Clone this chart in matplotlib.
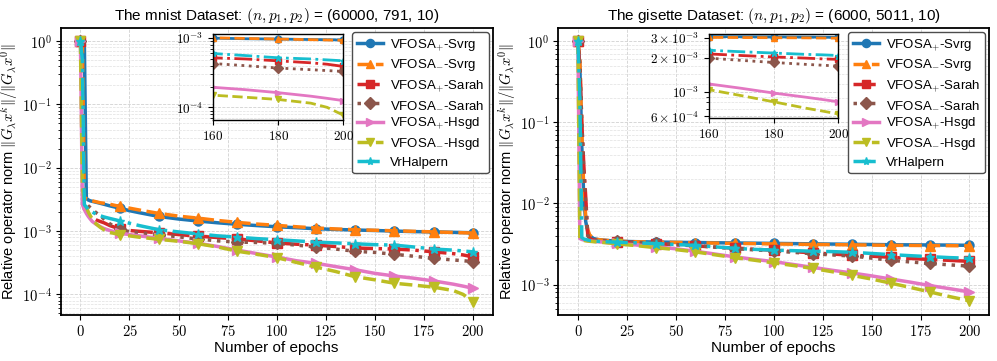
import math
import matplotlib
matplotlib.use("Agg")
import matplotlib.pyplot as plt
from matplotlib.ticker import FuncFormatter, NullFormatter, LogLocator

plt.rcParams["font.family"] = ["Liberation Sans", "DejaVu Sans"]
plt.rcParams["mathtext.fontset"] = "cm"

epochs = [0, 1, 2, 3, 4, 5, 6, 8, 10, 12, 15, 20, 25, 30, 40, 50, 60, 70, 80, 90,
          100, 110, 120, 130, 140, 150, 160, 170, 180, 190, 195, 200]

labels = [r"VFOSA$_{+}$-Svrg", r"VFOSA$_{-}$-Svrg", r"VFOSA$_{+}$-Sarah",
          r"VFOSA$_{-}$-Sarah", r"VFOSA$_{+}$-Hsgd", r"VFOSA$_{-}$-Hsgd", "VrHalpern"]

# ---- mnist ----
mnist_svrg_p = [1.0, 0.98, 0.9, 3.3e-3, 3.1e-3, 3.0e-3, 2.95e-3, 2.85e-3, 2.75e-3, 2.65e-3, 2.5e-3,
                2.3e-3, 2.1e-3, 1.95e-3, 1.7e-3, 1.55e-3, 1.44e-3, 1.35e-3, 1.28e-3, 1.22e-3,
                1.17e-3, 1.13e-3, 1.09e-3, 1.06e-3, 1.04e-3, 1.02e-3, 1.0e-3, 0.98e-3, 0.97e-3,
                0.955e-3, 0.948e-3, 0.94e-3]
mnist_svrg_m = [1.0, 0.9, 3.4e-3, 3.25e-3, 3.15e-3, 3.05e-3, 3.0e-3, 2.9e-3, 2.8e-3, 2.75e-3, 2.65e-3,
                2.45e-3, 2.3e-3, 2.15e-3, 1.9e-3, 1.72e-3, 1.6e-3, 1.47e-3, 1.37e-3, 1.29e-3,
                1.23e-3, 1.17e-3, 1.12e-3, 1.08e-3, 1.05e-3, 1.03e-3, 1.01e-3, 0.99e-3, 0.97e-3,
                0.95e-3, 0.94e-3, 0.93e-3]
mnist_sarah_p = [1.0, 0.3, 2.2e-3, 2.0e-3, 1.8e-3, 1.7e-3, 1.62e-3, 1.5e-3, 1.42e-3, 1.35e-3, 1.22e-3,
                 1.08e-3, 1.02e-3, 0.99e-3, 0.94e-3, 0.88e-3, 0.83e-3, 0.79e-3, 0.75e-3, 0.7e-3,
                 0.65e-3, 0.62e-3, 0.6e-3, 0.57e-3, 0.54e-3, 0.53e-3, 0.52e-3, 0.5e-3, 0.47e-3,
                 0.44e-3, 0.42e-3, 0.39e-3]
mnist_sarah_m = [1.0, 0.5, 3.0e-3, 2.7e-3, 2.5e-3, 2.35e-3, 2.2e-3, 1.95e-3, 1.75e-3, 1.55e-3, 1.3e-3,
                 1.06e-3, 0.98e-3, 0.94e-3, 0.88e-3, 0.81e-3, 0.75e-3, 0.7e-3, 0.67e-3, 0.66e-3,
                 0.64e-3, 0.6e-3, 0.56e-3, 0.52e-3, 0.48e-3, 0.46e-3, 0.43e-3, 0.4e-3, 0.37e-3,
                 0.35e-3, 0.34e-3, 0.33e-3]
mnist_hsgd_p = [1.0, 2.6e-3, 2.2e-3, 1.9e-3, 1.7e-3, 1.55e-3, 1.42e-3, 1.28e-3, 1.18e-3, 1.1e-3, 1.02e-3,
                0.93e-3, 0.88e-3, 0.84e-3, 0.77e-3, 0.7e-3, 0.64e-3, 0.57e-3, 0.5e-3, 0.44e-3,
                0.39e-3, 0.34e-3, 0.31e-3, 0.275e-3, 0.245e-3, 0.215e-3, 0.195e-3, 0.18e-3, 0.163e-3,
                0.145e-3, 0.135e-3, 0.125e-3]
mnist_hsgd_m = [1.0, 5e-3, 3.0e-3, 2.4e-3, 2.0e-3, 1.75e-3, 1.55e-3, 1.3e-3, 1.15e-3, 1.05e-3, 0.95e-3,
                0.88e-3, 0.84e-3, 0.8e-3, 0.74e-3, 0.69e-3, 0.63e-3, 0.56e-3, 0.48e-3, 0.43e-3,
                0.38e-3, 0.32e-3, 0.27e-3, 0.23e-3, 0.19e-3, 0.17e-3, 0.15e-3, 0.14e-3, 0.13e-3,
                0.115e-3, 0.1e-3, 0.077e-3]
mnist_halpern = [1.0, 0.5, 2.6e-3, 2.4e-3, 2.2e-3, 2.1e-3, 2.0e-3, 1.85e-3, 1.75e-3, 1.67e-3, 1.58e-3,
                 1.45e-3, 1.33e-3, 1.22e-3, 1.05e-3, 0.97e-3, 0.9e-3, 0.84e-3, 0.8e-3, 0.76e-3,
                 0.73e-3, 0.7e-3, 0.67e-3, 0.65e-3, 0.63e-3, 0.61e-3, 0.6e-3, 0.56e-3, 0.52e-3,
                 0.5e-3, 0.485e-3, 0.47e-3]

# ---- gisette ----
gis_svrg_p = [1.0, 0.5, 0.05, 0.012, 6e-3, 4.5e-3, 4.0e-3, 3.7e-3, 3.6e-3, 3.55e-3, 3.5e-3,
              3.42e-3, 3.4e-3, 3.38e-3, 3.35e-3, 3.32e-3, 3.3e-3, 3.28e-3, 3.26e-3, 3.24e-3,
              3.22e-3, 3.2e-3, 3.18e-3, 3.16e-3, 3.14e-3, 3.12e-3, 3.1e-3, 3.09e-3, 3.08e-3,
              3.07e-3, 3.06e-3, 3.05e-3]
gis_svrg_m = [1.0, 0.6, 0.08, 0.015, 7e-3, 4.8e-3, 4.1e-3, 3.7e-3, 3.6e-3, 3.55e-3, 3.5e-3,
              3.42e-3, 3.4e-3, 3.37e-3, 3.34e-3, 3.31e-3, 3.28e-3, 3.25e-3, 3.22e-3, 3.2e-3,
              3.17e-3, 3.15e-3, 3.13e-3, 3.11e-3, 3.09e-3, 3.07e-3, 3.05e-3, 3.04e-3, 3.03e-3,
              3.02e-3, 3.01e-3, 3.0e-3]
gis_sarah_p = [1.0, 0.5, 0.1, 0.03, 0.012, 4.2e-3, 3.7e-3, 3.55e-3, 3.5e-3, 3.47e-3, 3.43e-3,
               3.38e-3, 3.34e-3, 3.3e-3, 3.2e-3, 3.1e-3, 3.0e-3, 2.9e-3, 2.82e-3, 2.73e-3,
               2.65e-3, 2.55e-3, 2.46e-3, 2.38e-3, 2.3e-3, 2.24e-3, 2.17e-3, 2.1e-3, 2.04e-3,
               1.99e-3, 1.96e-3, 1.94e-3]
gis_sarah_m = [1.0, 0.5, 0.1, 0.025, 0.01, 4.0e-3, 3.7e-3, 3.55e-3, 3.5e-3, 3.47e-3, 3.43e-3,
               3.4e-3, 3.36e-3, 3.3e-3, 3.22e-3, 3.12e-3, 3.03e-3, 2.9e-3, 2.78e-3, 2.68e-3,
               2.6e-3, 2.5e-3, 2.4e-3, 2.32e-3, 2.25e-3, 2.12e-3, 1.99e-3, 1.9e-3, 1.82e-3,
               1.75e-3, 1.72e-3, 1.69e-3]
gis_hsgd_p = [1.0, 3.7e-3, 3.6e-3, 3.55e-3, 3.5e-3, 3.48e-3, 3.46e-3, 3.42e-3, 3.38e-3, 3.35e-3, 3.3e-3,
              3.22e-3, 3.15e-3, 3.08e-3, 2.93e-3, 2.76e-3, 2.58e-3, 2.38e-3, 2.2e-3, 2.05e-3,
              1.92e-3, 1.77e-3, 1.63e-3, 1.5e-3, 1.39e-3, 1.28e-3, 1.17e-3, 1.07e-3, 0.97e-3,
              0.89e-3, 0.85e-3, 0.81e-3]
gis_hsgd_m = [1.0, 3.6e-3, 3.55e-3, 3.5e-3, 3.47e-3, 3.44e-3, 3.42e-3, 3.38e-3, 3.35e-3, 3.32e-3, 3.27e-3,
              3.18e-3, 3.1e-3, 3.02e-3, 2.85e-3, 2.7e-3, 2.53e-3, 2.33e-3, 2.15e-3, 2.0e-3,
              1.85e-3, 1.72e-3, 1.58e-3, 1.44e-3, 1.3e-3, 1.17e-3, 1.04e-3, 0.92e-3, 0.81e-3,
              0.71e-3, 0.67e-3, 0.63e-3]
gis_halpern = [1.0, 0.2, 3.8e-3, 3.65e-3, 3.6e-3, 3.55e-3, 3.5e-3, 3.45e-3, 3.42e-3, 3.4e-3, 3.37e-3,
               3.33e-3, 3.3e-3, 3.27e-3, 3.2e-3, 3.12e-3, 3.04e-3, 2.92e-3, 2.8e-3, 2.72e-3,
               2.66e-3, 2.62e-3, 2.58e-3, 2.55e-3, 2.5e-3, 2.42e-3, 2.34e-3, 2.27e-3, 2.21e-3,
               2.15e-3, 2.13e-3, 2.1e-3]

mnist = [mnist_svrg_p, mnist_svrg_m, mnist_sarah_p, mnist_sarah_m, mnist_hsgd_p, mnist_hsgd_m, mnist_halpern]
gisette = [gis_svrg_p, gis_svrg_m, gis_sarah_p, gis_sarah_m, gis_hsgd_p, gis_hsgd_m, gis_halpern]

titles = [r"The mnist Dataset: $(n, p_1, p_2)$ = (60000, 791, 10)",
          r"The gisette Dataset: $(n, p_1, p_2)$ = (6000, 5011, 10)"]
xticks = [0, 25, 50, 75, 100, 125, 150, 175, 200]
inset_xticks = [160, 180, 200]
inset_ylims = [(6.6e-5, 1.15e-3), (5.8e-4, 3.25e-3)]
main_ylims = [(4.7e-5, 1.6), (4.2e-4, 1.45)]
gis_inset_ticks = [6e-4, 1e-3, 2e-3, 3e-3]
gis_inset_ticklabels = [r"$6\times10^{-4}$", r"$10^{-3}$", r"$2\times10^{-3}$", r"$3\times10^{-3}$"]

colors = ["tab:blue", "tab:orange", "tab:red", "tab:brown", "tab:pink", "tab:olive", "tab:cyan"]
styles = ["-", "--", "-.", ":", "-", "--", "-."]
markers = ["o", "^", "s", "D", ">", "v", "*"]

mark_idx = [i for i, e in enumerate(epochs) if e % 20 == 0]

math_int = FuncFormatter(lambda v, p: r"$%g$" % v)
math_pow = FuncFormatter(lambda v, p: r"$10^{%d}$" % round(math.log10(v)))

fig = plt.figure(figsize=(9.97, 3.61), dpi=100)
main_rects = [[0.061, 0.127, 0.433, 0.795], [0.560, 0.127, 0.432, 0.795]]
inset_rects = [[0.2135, 0.668, 0.131, 0.238], [0.711, 0.673, 0.130, 0.232]]


def draw(ax, data, lw, ms):
    for y, c, ls, m, lab in zip(data, colors, styles, markers, labels):
        ax.plot(epochs, y, color=c, ls=ls, marker=m, markevery=mark_idx,
                lw=lw, ms=ms, label=lab)


def style_grid(ax):
    ax.grid(True, which="major", ls="--", lw=0.6, color="0.82")
    ax.grid(True, which="minor", ls="--", lw=0.5, color="0.88")
    for s in ax.spines.values():
        s.set_linewidth(1.3)


for k, data in enumerate([mnist, gisette]):
    ax = fig.add_axes(main_rects[k])
    draw(ax, data, 2.5, 6.5)
    ax.set_yscale("log")
    ax.set_ylim(*main_ylims[k])
    ax.set_xticks(xticks)
    ax.xaxis.set_major_formatter(math_int)
    ax.yaxis.set_major_locator(LogLocator(base=10, numticks=10))
    ax.yaxis.set_major_formatter(math_pow)
    ax.yaxis.set_minor_formatter(NullFormatter())
    ax.tick_params(labelsize=10.5, pad=3)
    style_grid(ax)
    ax.set_title(titles[k], fontsize=11)
    ax.set_xlabel("Number of epochs", fontsize=11, labelpad=1)
    ax.set_ylabel(r"Relative operator norm $\|G_{\lambda}x^k\|/\|G_{\lambda}x^0\|$",
                  fontsize=10.5, labelpad=1)
    ax.legend(loc="upper right", fontsize=9.5, framealpha=1.0, edgecolor="0.3",
              handlelength=2.0, borderpad=0.35, labelspacing=0.35, handletextpad=0.5,
              borderaxespad=0.3, markerscale=0.9)

    ins = fig.add_axes(inset_rects[k])
    draw(ins, data, 2.0, 5)
    ins.set_yscale("log")
    ins.set_xlim(160, 200)
    ins.set_ylim(*inset_ylims[k])
    ins.set_xticks(inset_xticks)
    ins.xaxis.set_major_formatter(math_int)
    if k == 0:
        ins.yaxis.set_major_formatter(math_pow)
        ins.yaxis.set_minor_formatter(NullFormatter())
    else:
        ins.yaxis.set_major_formatter(NullFormatter())
        ins.yaxis.set_minor_formatter(NullFormatter())
        ins.set_yticks(gis_inset_ticks, minor=False)
        ins.set_yticklabels(gis_inset_ticklabels)
    ins.tick_params(labelsize=9.5)
    style_grid(ins)
    for s in ins.spines.values():
        s.set_linewidth(1.0)

fig.savefig("out.png", dpi=100)
